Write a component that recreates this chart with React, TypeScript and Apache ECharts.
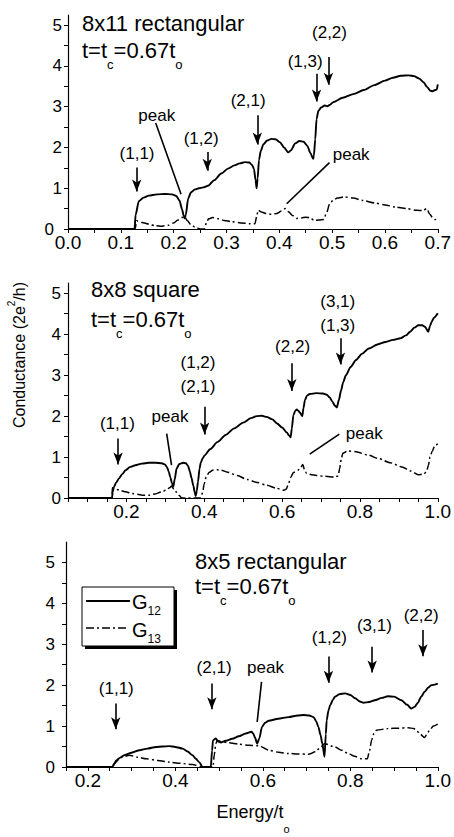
import React, { useEffect, useRef } from "react";
import * as echarts from "echarts";

const FONT = "'Liberation Sans', Arial, Helvetica, sans-serif";

// ---------- Panel 1: 8x11 rectangular ----------
const p1G12: [number, number][] = [
  [0, 0], [0.126, 0], [0.128, 0.35], [0.134, 0.68], [0.143, 0.77], [0.153, 0.82], [0.168, 0.85],
  [0.184, 0.86], [0.197, 0.85], [0.205, 0.81], [0.211, 0.7], [0.216, 0.48], [0.219, 0.32],
  [0.221, 0.26], [0.223, 0.35], [0.2275, 0.75], [0.233, 0.9], [0.24, 0.97], [0.248, 1.0],
  [0.256, 1.02], [0.265, 1.06], [0.277, 1.2], [0.29, 1.36], [0.303, 1.48], [0.315, 1.56],
  [0.325, 1.61], [0.335, 1.64], [0.343, 1.63], [0.348, 1.58], [0.352, 1.48], [0.355, 1.2],
  [0.357, 1.0], [0.359, 1.25], [0.3615, 1.69], [0.365, 1.92], [0.37, 2.08], [0.377, 2.17],
  [0.385, 2.21], [0.393, 2.2], [0.401, 2.13], [0.409, 2.0], [0.417, 1.88], [0.422, 1.93],
  [0.43, 2.1], [0.438, 2.16], [0.446, 2.14], [0.453, 2.04], [0.459, 1.86], [0.464, 1.72],
  [0.4655, 1.8], [0.468, 2.2], [0.4705, 2.7], [0.474, 2.9], [0.479, 2.98], [0.486, 3.03],
  [0.491, 3.01], [0.496, 3.05], [0.502, 3.11], [0.52, 3.22], [0.54, 3.31], [0.56, 3.41],
  [0.58, 3.53], [0.6, 3.64], [0.615, 3.71], [0.63, 3.76], [0.645, 3.77], [0.655, 3.75],
  [0.665, 3.69], [0.673, 3.6], [0.68, 3.48], [0.686, 3.39], [0.69, 3.38], [0.695, 3.41],
  [0.698, 3.42], [0.7, 3.55],
];
const p1G13: [number, number][] = [
  [0, 0], [0.127, 0], [0.13, 0.2], [0.14, 0.16], [0.153, 0.12], [0.165, 0.08], [0.178, 0.07],
  [0.19, 0.09], [0.2, 0.15], [0.208, 0.22], [0.215, 0.28], [0.221, 0.3], [0.226, 0.2],
  [0.233, 0.1], [0.24, 0.05], [0.25, 0], [0.258, 0], [0.262, 0.15], [0.266, 0.25], [0.274, 0.28],
  [0.285, 0.25], [0.296, 0.21], [0.31, 0.18], [0.327, 0.15], [0.345, 0.13], [0.354, 0.13],
  [0.357, 0.3], [0.36, 0.46], [0.366, 0.42], [0.375, 0.38], [0.385, 0.36], [0.395, 0.38],
  [0.404, 0.44], [0.411, 0.5], [0.418, 0.42], [0.425, 0.33], [0.433, 0.26], [0.442, 0.27],
  [0.45, 0.29], [0.458, 0.28], [0.466, 0.21], [0.475, 0.22], [0.484, 0.23], [0.489, 0.38],
  [0.4955, 0.62], [0.502, 0.71], [0.51, 0.76], [0.523, 0.79], [0.54, 0.76], [0.558, 0.7],
  [0.58, 0.64], [0.6, 0.59], [0.62, 0.54], [0.64, 0.5], [0.66, 0.46], [0.672, 0.45],
  [0.679, 0.5], [0.685, 0.36], [0.69, 0.28], [0.695, 0.23], [0.7, 0.3],
];
const p1Labels: [string, number, number][] = [
  ["(1,1)", 0.1307, 1.86], ["peak", 0.168, 2.79], ["(1,2)", 0.252, 2.22], ["(2,1)", 0.341, 3.16],
  ["(1,3)", 0.449, 4.1], ["(2,2)", 0.495, 4.83], ["peak", 0.536, 1.83],
];
const p1Arrows: [number, number, number][] = [
  [0.13, 1.51, 0.78], [0.2636, 1.89, 1.29], [0.3584, 2.79, 1.93], [0.4705, 3.81, 2.99], [0.493, 4.22, 3.4],
];
const p1Pointers: [number, number, number, number][] = [
  [0.166, 2.6, 0.214, 0.85], [0.495, 1.63, 0.414, 0.62],
];

// ---------- Panel 2: 8x8 square ----------
const p2G12: [number, number][] = [
  [0.05, 0], [0.163, 0], [0.165, 0.15], [0.168, 0.27], [0.174, 0.38], [0.181, 0.48], [0.19, 0.59],
  [0.198, 0.68], [0.21, 0.76], [0.223, 0.8], [0.24, 0.84], [0.257, 0.86], [0.275, 0.86],
  [0.291, 0.85], [0.299, 0.82], [0.304, 0.76], [0.309, 0.64], [0.313, 0.5], [0.317, 0.36],
  [0.3205, 0.28], [0.324, 0.45], [0.329, 0.72], [0.336, 0.83], [0.346, 0.86], [0.353, 0.85],
  [0.3586, 0.78], [0.363, 0.65], [0.367, 0.5], [0.372, 0.3], [0.3756, 0.14], [0.378, 0.05],
  [0.381, 0.18], [0.384, 0.4], [0.388, 0.72], [0.391, 0.86], [0.396, 0.97], [0.401, 1.04],
  [0.415, 1.19], [0.4346, 1.37], [0.455, 1.54], [0.477, 1.7], [0.5, 1.84], [0.52, 1.95],
  [0.535, 2.0], [0.548, 2.01], [0.56, 1.98], [0.575, 1.92], [0.587, 1.82], [0.6, 1.72],
  [0.612, 1.6], [0.618, 1.53], [0.622, 1.48], [0.625, 1.7], [0.629, 2.02], [0.634, 2.13],
  [0.6375, 2.16], [0.642, 2.13], [0.646, 2.08], [0.652, 2.0], [0.655, 2.2], [0.6586, 2.39],
  [0.664, 2.5], [0.671, 2.54], [0.688, 2.56], [0.705, 2.55], [0.715, 2.52], [0.722, 2.46],
  [0.729, 2.36], [0.735, 2.26], [0.7407, 2.21], [0.746, 2.4], [0.7516, 2.63], [0.757, 2.83],
  [0.764, 3.0], [0.776, 3.2], [0.79, 3.37], [0.805, 3.52], [0.823, 3.65], [0.845, 3.75],
  [0.866, 3.81], [0.885, 3.86], [0.904, 3.9], [0.918, 3.97], [0.929, 4.06], [0.94, 4.16],
  [0.95, 4.22], [0.96, 4.22], [0.967, 4.18], [0.9755, 4.06], [0.98, 4.2], [0.984, 4.3],
  [0.99, 4.4], [1.0, 4.51],
];
const p2G13: [number, number][] = [
  [0.05, 0], [0.163, 0], [0.164, 0.25], [0.175, 0.21], [0.186, 0.18], [0.198, 0.15], [0.215, 0.11],
  [0.24, 0.07], [0.26, 0.07], [0.274, 0.1], [0.29, 0.15], [0.3035, 0.2], [0.311, 0.25],
  [0.316, 0.29], [0.322, 0.22], [0.329, 0.14], [0.336, 0.06], [0.342, 0], [0.392, 0],
  [0.396, 0.15], [0.4, 0.35], [0.405, 0.51], [0.412, 0.62], [0.422, 0.68], [0.433, 0.69],
  [0.443, 0.68], [0.46, 0.63], [0.485, 0.55], [0.51, 0.45], [0.536, 0.38], [0.561, 0.31],
  [0.585, 0.24], [0.604, 0.19], [0.611, 0.22], [0.6165, 0.35], [0.622, 0.5], [0.629, 0.62],
  [0.641, 0.68], [0.648, 0.74], [0.653, 0.82], [0.658, 0.68], [0.663, 0.6], [0.675, 0.57],
  [0.688, 0.55], [0.71, 0.53], [0.735, 0.51], [0.744, 0.54], [0.748, 0.72], [0.752, 0.95],
  [0.756, 1.09], [0.7685, 1.15], [0.79, 1.13], [0.82, 1.05], [0.849, 0.96], [0.878, 0.86],
  [0.908, 0.76], [0.93, 0.66], [0.95, 0.57], [0.963, 0.58], [0.971, 0.64], [0.976, 0.8],
  [0.98, 1.0], [0.986, 1.15], [0.9925, 1.28], [1.0, 1.32],
];
const p2Labels: [string, number, number][] = [
  ["(1,1)", 0.177, 1.83], ["peak", 0.312, 2.0], ["(1,2)", 0.384, 3.3], ["(2,1)", 0.384, 2.73],
  ["(2,2)", 0.627, 3.69], ["(3,1)", 0.743, 4.79], ["(1,3)", 0.743, 4.22], ["peak", 0.811, 1.57],
];
const p2Arrows: [number, number, number][] = [
  [0.1786, 1.45, 0.68], [0.401, 2.23, 1.41], [0.625, 3.29, 2.47], [0.75, 3.9, 3.12],
];
const p2Pointers: [number, number, number, number][] = [
  [0.3035, 1.57, 0.316, 0.8], [0.747, 1.56, 0.671, 1.07],
];

// ---------- Panel 3: 8x5 rectangular ----------
const p3G12: [number, number][] = [
  [0.15, 0], [0.256, 0], [0.26, 0.08], [0.265, 0.16], [0.274, 0.23], [0.284, 0.29], [0.3, 0.35],
  [0.318, 0.41], [0.336, 0.45], [0.356, 0.49], [0.37, 0.5], [0.386, 0.51], [0.4, 0.49],
  [0.4166, 0.45], [0.428, 0.38], [0.439, 0.29], [0.447, 0.2], [0.4545, 0.12], [0.462, 0],
  [0.481, 0], [0.484, 0.4], [0.486, 0.65], [0.4925, 0.7], [0.498, 0.62], [0.504, 0.6],
  [0.515, 0.64], [0.53, 0.69], [0.545, 0.75], [0.561, 0.82], [0.574, 0.86], [0.578, 0.82],
  [0.582, 0.72], [0.587, 0.57], [0.592, 0.7], [0.598, 0.98], [0.605, 1.08], [0.6136, 1.13],
  [0.635, 1.18], [0.659, 1.22], [0.68, 1.26], [0.693, 1.27], [0.706, 1.26], [0.716, 1.22],
  [0.722, 1.12], [0.727, 0.98], [0.732, 0.78], [0.736, 0.57], [0.741, 0.25], [0.744, 0.8],
  [0.746, 1.14], [0.75, 1.38], [0.754, 1.51], [0.76, 1.64], [0.765, 1.72], [0.775, 1.78],
  [0.788, 1.8], [0.8, 1.76], [0.811, 1.68], [0.822, 1.6], [0.83, 1.57], [0.843, 1.59],
  [0.856, 1.63], [0.872, 1.69], [0.886, 1.73], [0.9, 1.72], [0.917, 1.63], [0.93, 1.52],
  [0.939, 1.43], [0.947, 1.47], [0.9545, 1.57], [0.962, 1.72], [0.97, 1.84], [0.978, 1.94],
  [0.985, 2.0], [1.0, 2.04],
];
const p3G13: [number, number][] = [
  [0.15, 0], [0.256, 0], [0.261, 0.08], [0.27, 0.18], [0.28, 0.25], [0.295, 0.29], [0.313, 0.24],
  [0.333, 0.2], [0.36, 0.16], [0.386, 0.12], [0.41, 0.09], [0.439, 0.06], [0.462, 0],
  [0.486, 0], [0.489, 0.3], [0.4925, 0.57], [0.496, 0.65], [0.505, 0.62], [0.523, 0.59],
  [0.545, 0.56], [0.568, 0.53], [0.591, 0.52], [0.6136, 0.41], [0.636, 0.36], [0.659, 0.33],
  [0.68, 0.32], [0.7045, 0.31], [0.72, 0.37], [0.731, 0.47], [0.741, 0.57], [0.765, 0.49],
  [0.78, 0.41], [0.795, 0.33], [0.81, 0.26], [0.826, 0.2], [0.839, 0.2], [0.844, 0.4],
  [0.8485, 0.65], [0.854, 0.82], [0.86, 0.9], [0.886, 0.94], [0.91, 0.95], [0.932, 0.96],
  [0.945, 0.94], [0.9507, 0.9], [0.96, 0.8], [0.97, 0.72], [0.976, 0.82], [0.981, 0.9],
  [0.99, 1.0], [1.0, 1.05],
];
const p3Labels: [string, number, number][] = [
  ["(1,1)", 0.265, 1.92], ["(2,1)", 0.4886, 2.43], ["peak", 0.606, 2.43], ["(1,2)", 0.752, 3.17],
  ["(3,1)", 0.855, 3.46], ["(2,2)", 0.962, 3.7],
];
const p3Arrows: [number, number, number][] = [
  [0.2636, 1.55, 0.78], [0.4834, 2.04, 1.27], [0.75, 2.7, 1.92], [0.85, 2.94, 2.17], [0.966, 3.35, 2.57],
];
const p3Pointers: [number, number, number, number][] = [[0.597, 2.08, 0.587, 1.1]];

// ---------- Axis ticks / labels ----------
const p1XTicks = [0, 0.05, 0.1, 0.15, 0.2, 0.25, 0.3, 0.35, 0.4, 0.45, 0.5, 0.55, 0.6, 0.65, 0.7];
const p1XLabels = [0, 0.1, 0.2, 0.3, 0.4, 0.5, 0.6, 0.7];
const p2XTicks = [0.05, 0.1, 0.15, 0.2, 0.25, 0.3, 0.35, 0.4, 0.45, 0.5, 0.55, 0.6, 0.65, 0.7, 0.75, 0.8, 0.85, 0.9, 0.95, 1.0];
const p3XTicks = [0.15, 0.2, 0.25, 0.3, 0.35, 0.4, 0.45, 0.5, 0.55, 0.6, 0.65, 0.7, 0.75, 0.8, 0.85, 0.9, 0.95, 1.0];
const p23XLabels = [0.2, 0.4, 0.6, 0.8, 1.0];
const yTicks = [0, 0.5, 1, 1.5, 2, 2.5, 3, 3.5, 4, 4.5, 5];
const yLabels = [0, 1, 2, 3, 4, 5];

const panels = [
  {
    title: "8x11 rectangular", g12: p1G12, g13: p1G13, labels: p1Labels, arrows: p1Arrows, pointers: p1Pointers,
    xMin: 0, xMax: 0.7, yMax: 5.25, xTicks: p1XTicks, xLabels: p1XLabels,
    grid: { left: 68, top: 15, width: 375, height: 214 }, yLabelMargin: 6, zeroShift: 8,
    titleX: 82, titleY1: 23, titleY2: 50,
  },
  {
    title: "8x8 square", g12: p2G12, g13: p2G13, labels: p2Labels, arrows: p2Arrows, pointers: p2Pointers,
    xMin: 0.05, xMax: 1.0, yMax: 5.25, xTicks: p2XTicks, xLabels: p23XLabels,
    grid: { left: 68, top: 283, width: 375, height: 215 }, yLabelMargin: 7, zeroShift: 0,
    titleX: 91, titleY1: 289, titleY2: 319,
  },
  {
    title: "8x5 rectangular", g12: p3G12, g13: p3G13, labels: p3Labels, arrows: p3Arrows, pointers: p3Pointers,
    xMin: 0.15, xMax: 1.0, yMax: 5.5, xTicks: p3XTicks, xLabels: p23XLabels,
    grid: { left: 66, top: 542, width: 374, height: 225 }, yLabelMargin: 11, zeroShift: 0,
    titleX: 195, titleY1: 561, titleY2: 586,
  },
];

let measureCtx: CanvasRenderingContext2D | null = null;
function measure(text: string, size: number): number {
  if (!measureCtx) measureCtx = document.createElement("canvas").getContext("2d");
  if (!measureCtx) return text.length * size * 0.55;
  measureCtx.font = `${size}px ${FONT}`;
  return measureCtx.measureText(text).width;
}

type Part = { t: string; sub?: boolean };
function partsWidth(parts: Part[], main: number, sub: number) {
  return parts.reduce((w, p) => w + measure(p.t, p.sub ? sub : main), 0);
}
function subscriptTexts(x: number, y: number, parts: Part[], main: number, sub: number, dy: number) {
  const out: any[] = [];
  let cx = x;
  parts.forEach((p) => {
    const size = p.sub ? sub : main;
    out.push({
      type: "text", x: cx, y: p.sub ? y + dy : y, z: 20,
      style: {
        text: p.t, fontSize: size, lineHeight: size, fontFamily: FONT, fill: "#000",
        textVerticalAlign: "middle", textAlign: "left",
      },
    });
    cx += measure(p.t, size);
  });
  return out;
}

const tcParts: Part[] = [{ t: "t=t" }, { t: "c", sub: true }, { t: "=0.67t" }, { t: "o", sub: true }];
const energyParts: Part[] = [{ t: "Energy/t" }, { t: "o", sub: true }];

function buildOption() {
  const grid: any[] = [];
  const xAxis: any[] = [];
  const yAxis: any[] = [];
  const series: any[] = [];
  const graphic: any[] = [];

  panels.forEach((p, i) => {
    grid.push({ ...p.grid, containLabel: false });
    xAxis.push({
      type: "value", gridIndex: i, min: p.xMin, max: p.xMax,
      axisLine: { show: true, onZero: false, lineStyle: { color: "#000", width: 1.2 } },
      axisTick: { show: true, customValues: p.xTicks, length: 4, lineStyle: { color: "#000", width: 1 } },
      axisLabel: {
        customValues: p.xLabels, formatter: (v: number) => v.toFixed(1),
        fontSize: 19, lineHeight: 14, color: "#000", fontFamily: FONT, margin: 6,
      },
      splitLine: { show: false },
    });
    yAxis.push({
      type: "value", gridIndex: i, min: 0, max: p.yMax,
      axisLine: { show: true, onZero: false, lineStyle: { color: "#000", width: 1.2 } },
      axisTick: { show: true, customValues: yTicks, length: 4, lineStyle: { color: "#000", width: 1 } },
      axisLabel: {
        customValues: yLabels, fontSize: 17, lineHeight: 12, color: "#000", fontFamily: FONT, margin: p.yLabelMargin,
        formatter: (v: number) => (v === 0 && p.zeroShift ? "{z|0}" : String(v)),
        rich: { z: { fontSize: 17, fontFamily: FONT, color: "#000", padding: [0, p.zeroShift, 0, 0] } },
      },
      splitLine: { show: false },
    });

    const lineData: any[] = [];
    p.arrows.forEach(([x, y1, y2]) => {
      lineData.push([
        { coord: [x, y1], symbol: "none" },
        { coord: [x, y2 + 0.14], symbol: "arrow" },
      ]);
    });
    p.pointers.forEach(([x1, y1, x2, y2]) => {
      lineData.push([
        { coord: [x1, y1], symbol: "none" },
        { coord: [x2, y2], symbol: "none" },
      ]);
    });

    series.push({
      name: "G12", type: "line", xAxisIndex: i, yAxisIndex: i, data: p.g12,
      showSymbol: false, smooth: 0.25, smoothMonotone: "x",
      lineStyle: { color: "#000", width: 1.9 }, itemStyle: { color: "#000" },
      z: 3,
      markLine: {
        silent: true, animation: false, symbolSize: [7, 12],
        label: { show: false }, emphasis: { disabled: true },
        lineStyle: { color: "#000", width: 1.6, type: "solid" },
        data: lineData,
      },
      markPoint: {
        silent: true, animation: false, symbol: "circle", symbolSize: 1,
        itemStyle: { color: "rgba(0,0,0,0)" },
        label: { show: true, position: "inside", formatter: "{b}", color: "#000", fontSize: 17, fontFamily: FONT },
        data: p.labels.map(([t, x, y]) => ({ name: t, coord: [x, y] })),
      },
    });
    series.push({
      name: "G13", type: "line", xAxisIndex: i, yAxisIndex: i, data: p.g13,
      showSymbol: false, smooth: 0.25, smoothMonotone: "x",
      lineStyle: { color: "#000", width: 1.5, type: [8, 3, 2, 3] }, itemStyle: { color: "#000" },
      z: 2,
    });

    graphic.push({
      type: "text", x: p.titleX, y: p.titleY1, z: 20,
      style: {
        text: p.title, fontSize: 22, lineHeight: 20, fontFamily: FONT, fill: "#000",
        textVerticalAlign: "middle", textAlign: "left",
      },
    });
    graphic.push(...subscriptTexts(p.titleX, p.titleY2, tcParts, 22, 13, 14));
  });

  // Legend (panel 3)
  graphic.push(
    { type: "rect", shape: { x: 85, y: 590, width: 92, height: 59 }, style: { fill: "#000" }, z: 10 },
    { type: "rect", shape: { x: 82, y: 587, width: 92, height: 59 }, style: { fill: "#fff", stroke: "#000", lineWidth: 1 }, z: 11 },
    { type: "line", shape: { x1: 86, y1: 601, x2: 130, y2: 601 }, style: { stroke: "#000", lineWidth: 1.9 }, z: 12 },
    { type: "line", shape: { x1: 86, y1: 628, x2: 128, y2: 628 }, style: { stroke: "#000", lineWidth: 1.5, lineDash: [8, 3, 2, 3] }, z: 12 }
  );
  graphic.push(...subscriptTexts(132, 602, [{ t: "G" }, { t: "12", sub: true }], 20, 12, 9));
  graphic.push(...subscriptTexts(132, 630, [{ t: "G" }, { t: "13", sub: true }], 20, 12, 9));

  // Axis titles
  graphic.push({
    type: "text", x: 19, y: 355, rotation: Math.PI / 2, z: 20,
    style: {
      text: "{m|Conductance (2e}{p|2}{m|/h)}", textAlign: "center", textVerticalAlign: "middle",
      rich: {
        m: { fontSize: 16, lineHeight: 26, fontFamily: FONT, color: "#000" },
        p: { fontSize: 10, lineHeight: 11, verticalAlign: "top", fontFamily: FONT, color: "#000" },
      },
    },
  });
  const ew = partsWidth(energyParts, 18, 11);
  graphic.push(...subscriptTexts(253 - ew / 2, 812, energyParts, 18, 11, 17));

  return {
    animation: false,
    backgroundColor: "#fff",
    textStyle: { fontFamily: FONT },
    grid, xAxis, yAxis, series, graphic,
  };
}

export default function App() {
  const ref = useRef<HTMLDivElement>(null);
  useEffect(() => {
    if (!ref.current) return;
    const chart = echarts.init(ref.current, null, { renderer: "svg" });
    chart.setOption(buildOption() as any);
    return () => chart.dispose();
  }, []);
  return (
    <div
      ref={ref}
      style={{ position: "absolute", left: 0, top: 0, width: 454, height: 837, background: "#fff" }}
    />
  );
}
